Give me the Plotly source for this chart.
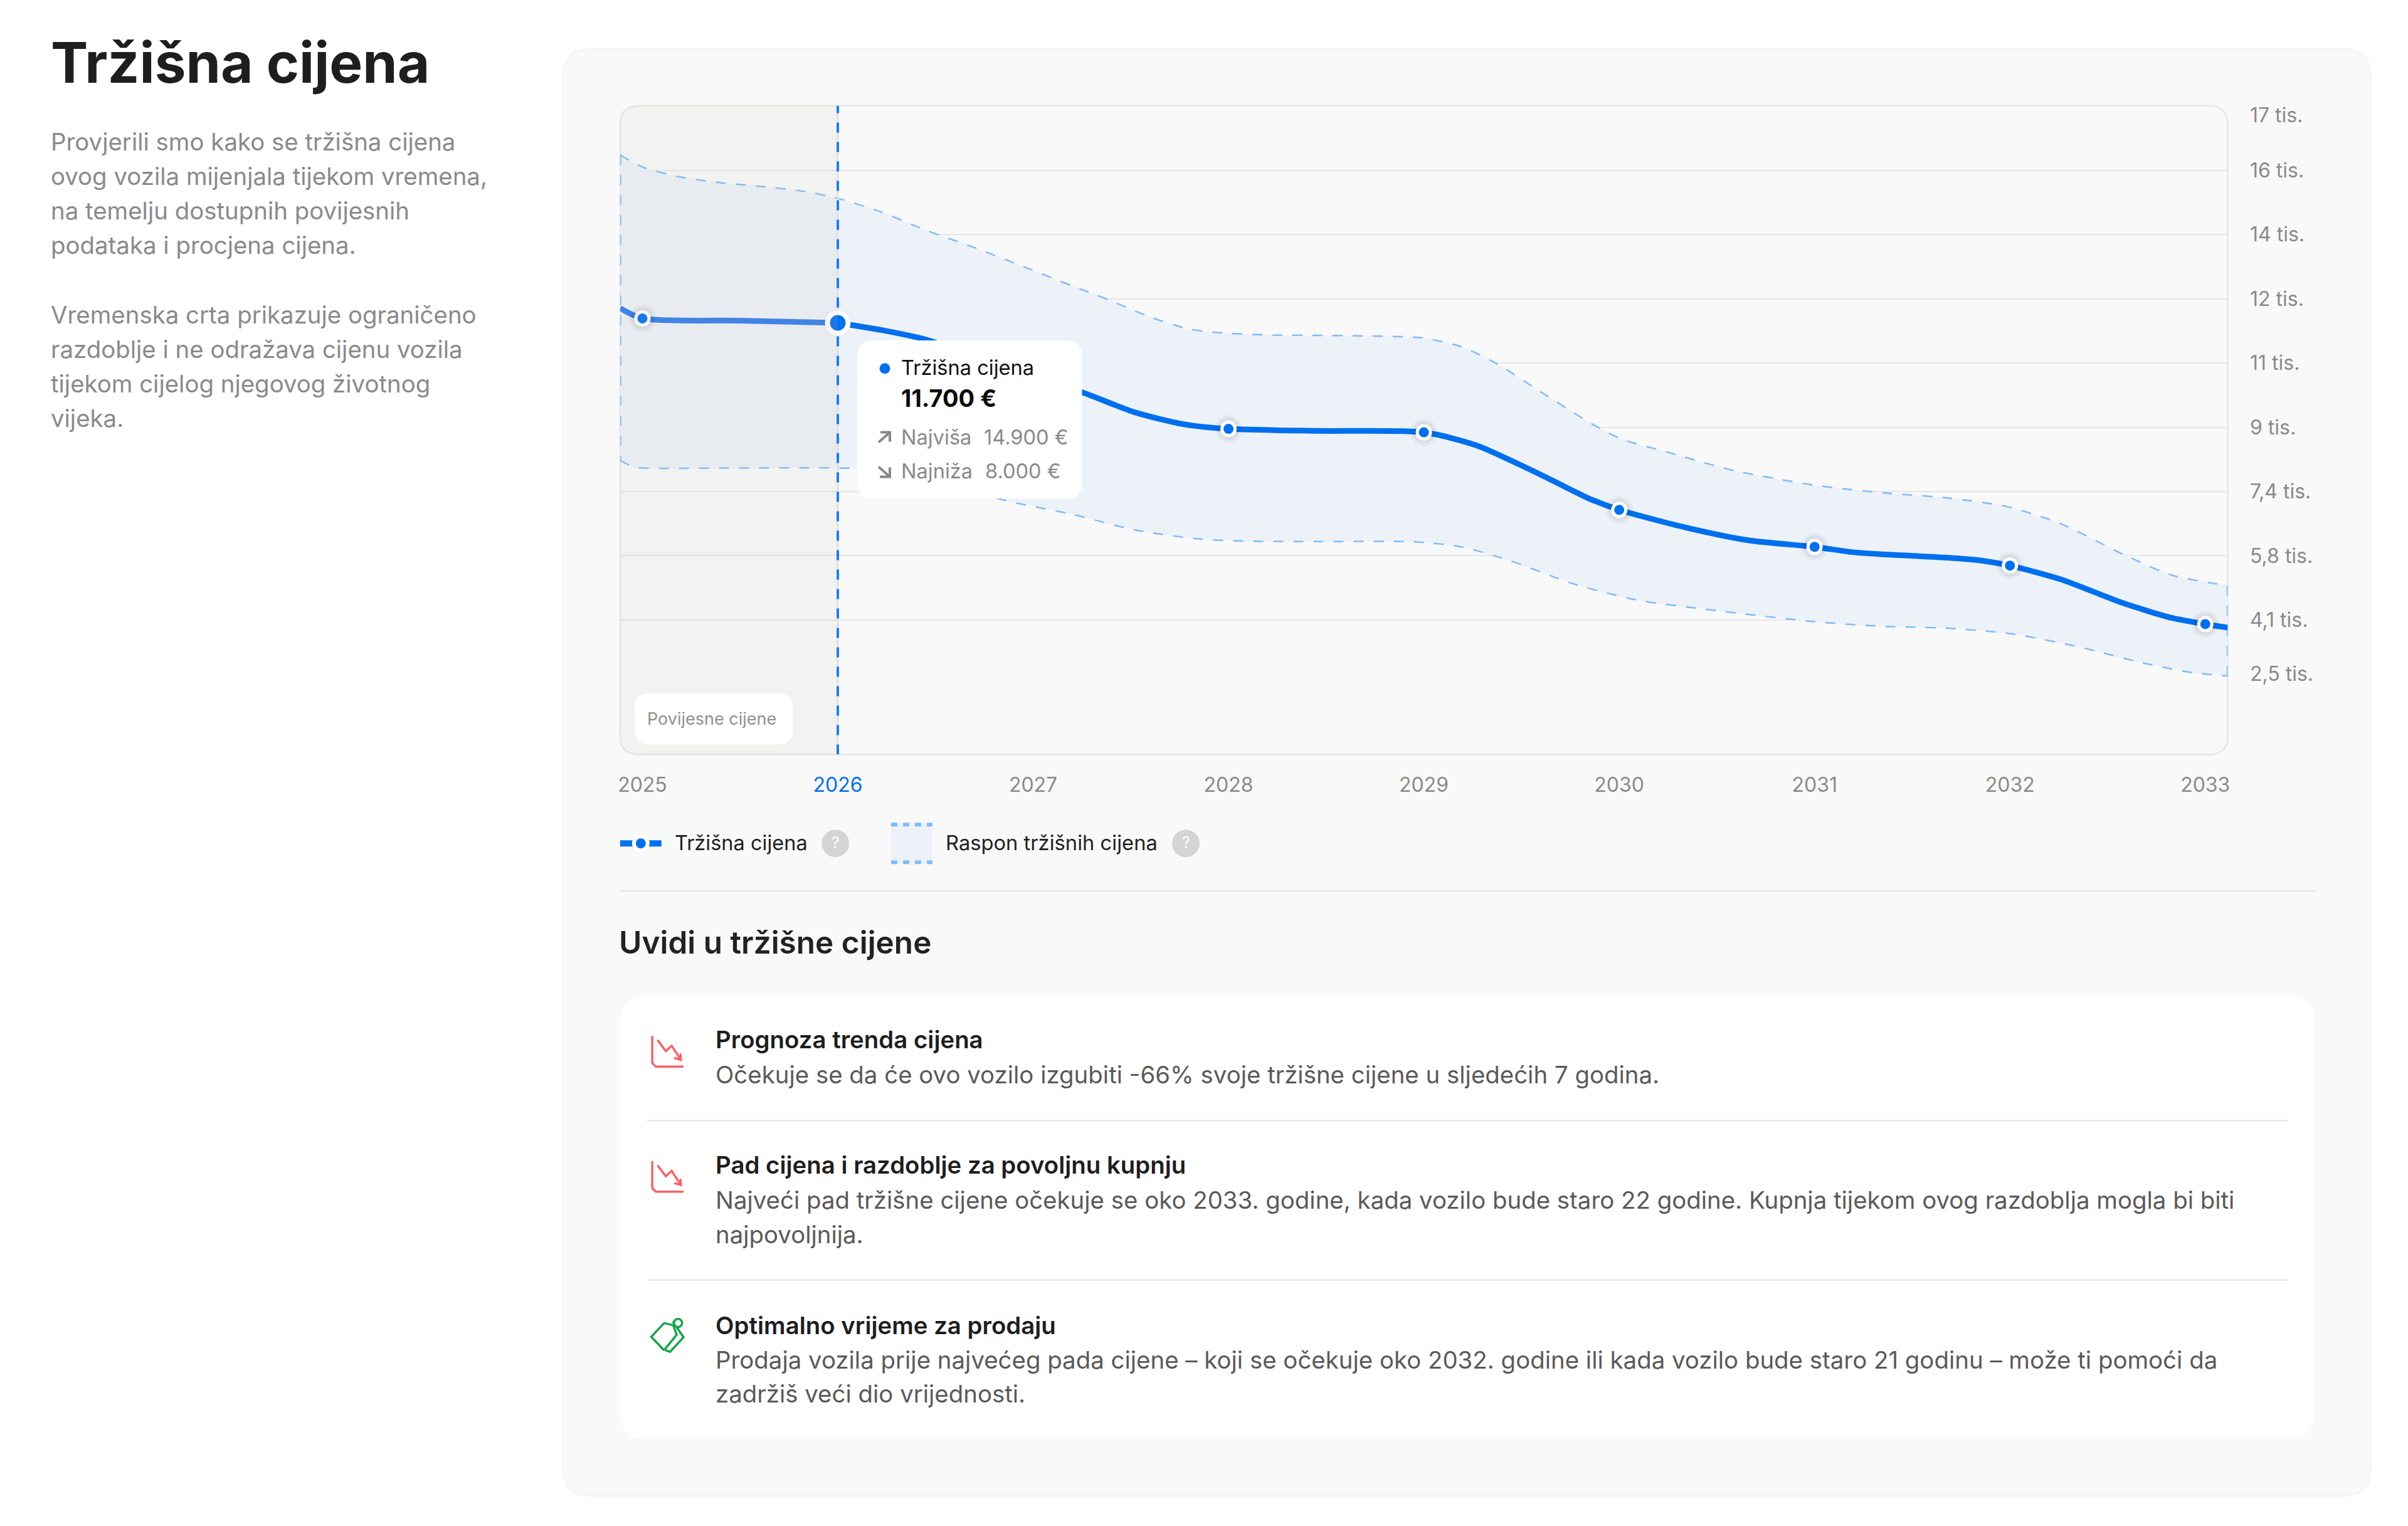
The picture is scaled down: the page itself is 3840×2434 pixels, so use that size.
import plotly.graph_objects as go

W, H = 3840, 2434
FONT = "Inter"
BLUE = "#006FEE"
HIST_BLUE = "#307BEA"
DASH_BLUE = "#7FBCFB"
BAND = "#EDF2F9"
GREY = "#8A8A8A"

# chart data
years_mid = [2024.886, 2025, 2025.5, 2026, 2026.22, 2026.45, 2027, 2027.26, 2027.52, 2027.77, 2028,
             2028.46, 2029, 2029.27, 2029.6, 2029.85, 2030, 2030.34, 2030.67, 2031, 2031.19, 2031.35, 2031.52, 2031.68,
             2031.85, 2032, 2032.26, 2032.58, 2032.83, 2033, 2033.115]
price_mid = [12156, 11891, 11834, 11777, 11595, 11347, 10387, 9967, 9466, 9159, 9038,
             8986, 8949, 8610, 7850, 7229, 6945, 6492, 6153, 5991, 5855, 5797, 5755, 5711,
             5639, 5506, 5151, 4536, 4153, 3995, 3906]

years_high = [2024.886, 2025, 2025.18, 2025.4, 2025.61, 2025.83, 2026, 2026.22, 2026.46, 2026.71, 2026.95,
              2027.2, 2027.36, 2027.61, 2027.8, 2027.98, 2028.23, 2028.46, 2028.7, 2028.99, 2029.19,
              2029.37, 2029.6, 2029.86, 2030.01, 2030.25, 2030.58, 2030.99, 2031.35, 2031.68, 2031.99,
              2032.26, 2032.58, 2032.83, 2033.115]
price_high = [16117, 15802, 15560, 15398, 15301, 15172, 14994, 14646, 14153, 13701, 13232,
              12731, 12424, 11907, 11616, 11512, 11462, 11454, 11438, 11390, 11163,
              10733, 9991, 9167, 8779, 8432, 7971, 7591, 7386, 7255, 7025,
              6589, 5797, 5257, 4989]

years_low = [2024.886, 2024.95, 2025, 2025.5, 2026, 2026.09, 2026.5, 2026.9, 2027.2, 2027.52, 2027.85,
             2028.1, 2028.46, 2028.95, 2029.19, 2029.44, 2029.76, 2030.09, 2030.5, 2031.01, 2031.35,
             2031.68, 2032.01, 2032.34, 2032.66, 2032.91, 2033.115]
price_low = [8222, 8065, 8028, 8028, 8028, 8011, 7640, 7139, 6832, 6427, 6193,
             6137, 6128, 6120, 5991, 5635, 5044, 4617, 4342, 4052, 3938,
             3890, 3744, 3421, 3017, 2758, 2652]

point_years = [2025, 2026, 2027, 2028, 2029, 2030, 2031, 2032, 2033]
point_prices = [11891, 11777, 10387, 9038, 8949, 6945, 5991, 5506, 3995]
active_year = 2026

year_ticks = [2025, 2026, 2027, 2028, 2029, 2030, 2031, 2032, 2033]
price_grid = [4100, 5760, 7420, 9080, 10740, 12400, 14060, 15720]
price_ticks = [2710, 4100, 5760, 7420, 9080, 10740, 12400, 14060, 15720, 17143]
price_labels = ["2,5 tis.", "4,1 tis.", "5,8 tis.", "7,4 tis.", "9 tis.", "11 tis.", "12 tis.", "14 tis.", "16 tis.", "17 tis."]

x_range = [2024.886, 2033.115]
y_range = [625, 17386]

# layout in page pixels
PLOT_L, PLOT_R, PLOT_T, PLOT_B = 987, 3556, 167, 1204
PAGE_SHIFT = 3  # everything sits a little higher than first measured


def fx(px):
    return px / W


def fy(py):
    return 1 - (py - PAGE_SHIFT) / H


def year_px(year):
    return PLOT_L + (year - x_range[0]) / (x_range[1] - x_range[0]) * (PLOT_R - PLOT_L)


def rounded(x0, y0, x1, y1, r, right=True):
    # rounded rectangle as a paper path
    rr = r if right else 0
    pts = [
        f"M{fx(x0 + r)},{fy(y0)}", f"L{fx(x1 - rr)},{fy(y0)}", f"Q{fx(x1)},{fy(y0)} {fx(x1)},{fy(y0 + rr)}",
        f"L{fx(x1)},{fy(y1 - rr)}", f"Q{fx(x1)},{fy(y1)} {fx(x1 - rr)},{fy(y1)}", f"L{fx(x0 + r)},{fy(y1)}",
        f"Q{fx(x0)},{fy(y1)} {fx(x0)},{fy(y1 - r)}", f"L{fx(x0)},{fy(y0 + r)}",
        f"Q{fx(x0)},{fy(y0)} {fx(x0 + r)},{fy(y0)}", "Z",
    ]
    return " ".join(pts)


def poly(points, closed=False):
    path = " ".join(("M" if i == 0 else "L") + f"{fx(a)},{fy(b)}" for i, (a, b) in enumerate(points))
    return path + (" Z" if closed else "")


shapes = []


def panel(x0, y0, x1, y1, r, fill, border=None, bw=2, layer="below", right=True):
    shapes.append(dict(type="path", path=rounded(x0, y0, x1, y1, r, right), xref="paper", yref="paper", layer=layer,
                       fillcolor=fill, line=dict(color=border or "rgba(0,0,0,0)", width=bw if border else 0)))


def stroke(points, color, width, layer="below", dash=None, closed=False):
    shapes.append(dict(type="path", path=poly(points, closed), xref="paper", yref="paper", layer=layer,
                       line=dict(color=color, width=width, dash=dash or "solid")))


def dot(cx, cy, r, fill, layer="below", border=None, bw=0):
    shapes.append(dict(type="circle", xref="paper", yref="paper", layer=layer,
                       x0=fx(cx - r), x1=fx(cx + r), y0=fy(cy + r), y1=fy(cy - r), fillcolor=fill,
                       line=dict(color=border or "rgba(0,0,0,0)", width=bw)))


annotations = []


def txt(x, y, text, size, color, weight=400, anchor="left"):
    # small nudge, the annotation box has some padding of its own
    annotations.append(dict(x=fx(x - (3 if anchor == "left" else 0)), y=fy(y - 1), xref="paper", yref="paper", text=text,
                            showarrow=False, xanchor=anchor, yanchor="middle", borderpad=0,
                            font=dict(family=FONT, size=size, color=color, weight=weight)))


# page panels
panel(896, 76, 3784, 2389, 44, "#F9F9F9", "#F3F3F3", 2)
panel(PLOT_L, PLOT_T, PLOT_R, PLOT_B, 30, "rgba(0,0,0,0)", "#E6E6E6", 2.5)
stroke([(987, 1422), (3695, 1422)], "#E8E8E8", 3)
panel(987, 1589, 3695, 2298, 44, "#FFFFFF")
stroke([(1030, 1789), (3653, 1789)], "#E8E8E8", 2.5)
stroke([(1030, 2044), (3653, 2044)], "#E8E8E8", 2.5)

# historic part of the plot, over the traces
panel(PLOT_L, PLOT_T, year_px(active_year), PLOT_B, 30, "rgba(197,195,193,0.12)", layer="above", right=False)
panel(1010, 1106, 1263, 1188, 24, "#FFFFFF", layer="above")
txt(1032, 1148, "Povijesne cijene", 27, "#909090")

# tooltip
panel(1366, 542, 1725, 795, 26, "#FFFFFF", layer="above")
dot(1410, 587, 8.5, BLUE, layer="above")
txt(1438, 586, "Tržišna cijena", 32.6, "#111111")
txt(1438, 635, "11.700 €", 38, "#0A0A0A", 700)
txt(1438, 697, "Najviša", 32.6, GREY)
txt(1570, 697, "14.900 €", 32.6, GREY)
txt(1438, 752, "Najniža", 32.6, GREY)
txt(1572, 752, "8.000 €", 32.6, GREY)
stroke([(1400, 705), (1418, 689)], "#888888", 4, layer="above")
stroke([(1403, 689), (1418, 689), (1418, 704)], "#888888", 4, layer="above")
stroke([(1400, 744), (1418, 760)], "#888888", 4, layer="above")
stroke([(1418, 745), (1418, 760), (1402, 760)], "#888888", 4, layer="above")

# left column
txt(79, 99, "Tržišna cijena", 89, "#1E1E1E", 700)
intro_lines = ["Provjerili smo kako se tržišna cijena", "ovog vozila mijenjala tijekom vremena,",
               "na temelju dostupnih povijesnih", "podataka i procjena cijena."]
intro_rows = [225, 281, 336, 391]
note_lines = ["Vremenska crta prikazuje ograničeno", "razdoblje i ne odražava cijenu vozila",
              "tijekom cijelog njegovog životnog", "vijeka."]
note_rows = [502, 557, 612, 667]
for line, row in zip(intro_lines + note_lines, intro_rows + note_rows):
    txt(79, row, line, 38.4, GREY)

# legend
stroke([(987, 1346), (1053, 1346)], BLUE, 10)
dot(1020, 1346, 11, BLUE, border="#FFFFFF", bw=6)
txt(1076, 1346, "Tržišna cijena", 32.5, "#222222")
dot(1331, 1346, 22, "#D4D4D4")
txt(1331, 1346, "?", 25, "#FFFFFF", anchor="center")
panel(1420, 1313, 1486, 1379, 0, BAND)
stroke([(1420, 1316), (1486, 1316)], DASH_BLUE, 6, dash="10px,9px")
stroke([(1420, 1376), (1486, 1376)], DASH_BLUE, 6, dash="10px,9px")
txt(1509, 1346, "Raspon tržišnih cijena", 32.7, "#222222")
dot(1891, 1346, 22, "#D4D4D4")
txt(1891, 1346, "?", 25, "#FFFFFF", anchor="center")

# insights
txt(987, 1505, "Uvidi u tržišne cijene", 49.5, "#222222", 600)
txt(1141, 1660, "Prognoza trenda cijena", 38.4, "#1E1E1E", 600)
txt(1141, 1717, "Očekuje se da će ovo vozilo izgubiti -66% svoje tržišne cijene u sljedećih 7 godina.", 38.4, "#5A5A5A")
txt(1141, 1861, "Pad cijena i razdoblje za povoljnu kupnju", 38.4, "#1E1E1E", 600)
txt(1141, 1917, "Najveći pad tržišne cijene očekuje se oko 2033. godine, kada vozilo bude staro 22 godine. Kupnja tijekom ovog razdoblja mogla bi biti", 38.4, "#5A5A5A")
txt(1141, 1972, "najpovoljnija.", 38.4, "#5A5A5A")
txt(1141, 2117, "Optimalno vrijeme za prodaju", 38.4, "#1E1E1E", 600)
txt(1141, 2172, "Prodaja vozila prije najvećeg pada cijene – koji se očekuje oko 2032. godine ili kada vozilo bude staro 21 godinu – može ti pomoći da", 38.4, "#5A5A5A")
txt(1141, 2227, "zadržiš veći dio vrijednosti.", 38.4, "#5A5A5A")

# trend icons
RED = "#F7626A"
for dy in (2, 202):
    stroke([(1038.3, 1651.7 + dy), (1038.3, 1695 + dy), (1044, 1700.7 + dy), (1088.3, 1700.7 + dy)], RED, 3.5)
    stroke([(1046.7, 1658.3 + dy), (1060, 1676 + dy), (1069.3, 1667.3 + dy), (1084, 1690 + dy)], RED, 3.5)
    stroke([(1083.3, 1680 + dy), (1084, 1690 + dy), (1073.3, 1686.7 + dy)], RED, 3.5)

# tag icon
GREEN = "#16A34A"
stroke([(1036.7, 2134.7), (1057.3, 2112.7), (1071.7, 2116), (1077.3, 2131.3), (1058.3, 2154.7), (1056, 2155)], GREEN, 3.5, closed=True)
stroke([(1071, 2110), (1088.3, 2135.3), (1066.7, 2158.7), (1059, 2156)], GREEN, 3.5)
dot(1079.5, 2112.5, 6.5, "#FFFFFF", border=GREEN, bw=3.5)

fig = go.Figure()

# price range band
fig.add_scatter(x=years_high, y=price_high, mode="lines", showlegend=False, cliponaxis=False,
                line=dict(color=DASH_BLUE, width=2.5, dash="16px,16px", shape="spline", smoothing=0.7))
fig.add_scatter(x=years_low, y=price_low, mode="lines", showlegend=False, cliponaxis=False, fill="tonexty", fillcolor=BAND,
                line=dict(color=DASH_BLUE, width=2.5, dash="16px,16px", shape="spline", smoothing=0.7))
# closed ends of the band
for i in (0, -1):
    fig.add_scatter(x=[years_high[i], years_low[i]], y=[price_high[i], price_low[i]], mode="lines", showlegend=False,
                    cliponaxis=False, line=dict(color=DASH_BLUE, width=3.5, dash="16px,16px"))

# cursor at the selected year
fig.add_scatter(x=[active_year, active_year], y=y_range, mode="lines", showlegend=False,
                line=dict(color="#E2E2E2", width=3))
fig.add_scatter(x=[active_year, active_year], y=y_range, mode="lines", showlegend=False,
                line=dict(color="#1478F0", width=4, dash="16px,15px"))

# market price line, lighter over the historic part
cut = years_mid.index(active_year) + 1
fig.add_scatter(x=years_mid[:cut], y=price_mid[:cut], mode="lines", showlegend=False,
                line=dict(color=HIST_BLUE, width=9, shape="spline", smoothing=0.7))
fig.add_scatter(x=years_mid[cut - 1:], y=price_mid[cut - 1:], mode="lines", showlegend=False, cliponaxis=False,
                line=dict(color=BLUE, width=9, shape="spline", smoothing=0.7))

# soft shadow under the points
for halo, alpha in ((44, 0.03), (36, 0.05)):
    fig.add_scatter(x=point_years, y=point_prices, mode="markers", showlegend=False,
                    marker=dict(size=halo, color=f"rgba(0,0,0,{alpha})", line=dict(width=0)))

rest_years = [y for y in point_years if y != active_year]
rest_prices = [p for y, p in zip(point_years, point_prices) if y != active_year]
active_prices = [p for y, p in zip(point_years, point_prices) if y == active_year]
fig.add_scatter(x=rest_years, y=rest_prices, mode="markers", showlegend=False, cliponaxis=False,
                marker=dict(size=21, color=BLUE, line=dict(color="#FFFFFF", width=5)))
fig.add_scatter(x=[active_year], y=active_prices, mode="markers", showlegend=False, cliponaxis=False,
                marker=dict(size=33, color=BLUE, line=dict(color="#FFFFFF", width=8)))

year_labels = [f'<span style="color:{BLUE}">{y}</span>' if y == active_year else str(y) for y in year_ticks]

fig.update_layout(
    width=W, height=H, autosize=False, margin=dict(l=0, r=0, t=0, b=0, pad=0),
    paper_bgcolor="#FFFFFF", plot_bgcolor="rgba(0,0,0,0)", showlegend=False,
    font=dict(family=FONT, color=GREY, size=32),
    xaxis=dict(domain=[fx(PLOT_L), fx(PLOT_R)], range=x_range, tickmode="array", tickvals=year_ticks, ticktext=year_labels,
               showgrid=False, zeroline=False, showline=False, ticks="outside", ticklen=20, tickcolor="rgba(0,0,0,0)",
               tickfont=dict(family=FONT, size=32, color=GREY)),
    yaxis=dict(domain=[fy(PLOT_B), fy(PLOT_T)], range=y_range, side="right", tickmode="array", tickvals=price_ticks,
               ticktext=price_labels, showgrid=False, zeroline=False, showline=False, ticks="outside", ticklen=28,
               tickcolor="rgba(0,0,0,0)", tickfont=dict(family=FONT, size=32, color=GREY),
               minor=dict(tickmode="array", tickvals=price_grid, showgrid=True, gridcolor="#E6E6E6", gridwidth=2, ticks="")),
    shapes=shapes, annotations=annotations,
)

# plotly's page keeps the browser's default body margin
fig.write_html("out.html", config={"displayModeBar": False}, post_script="document.body.style.margin='0';")
